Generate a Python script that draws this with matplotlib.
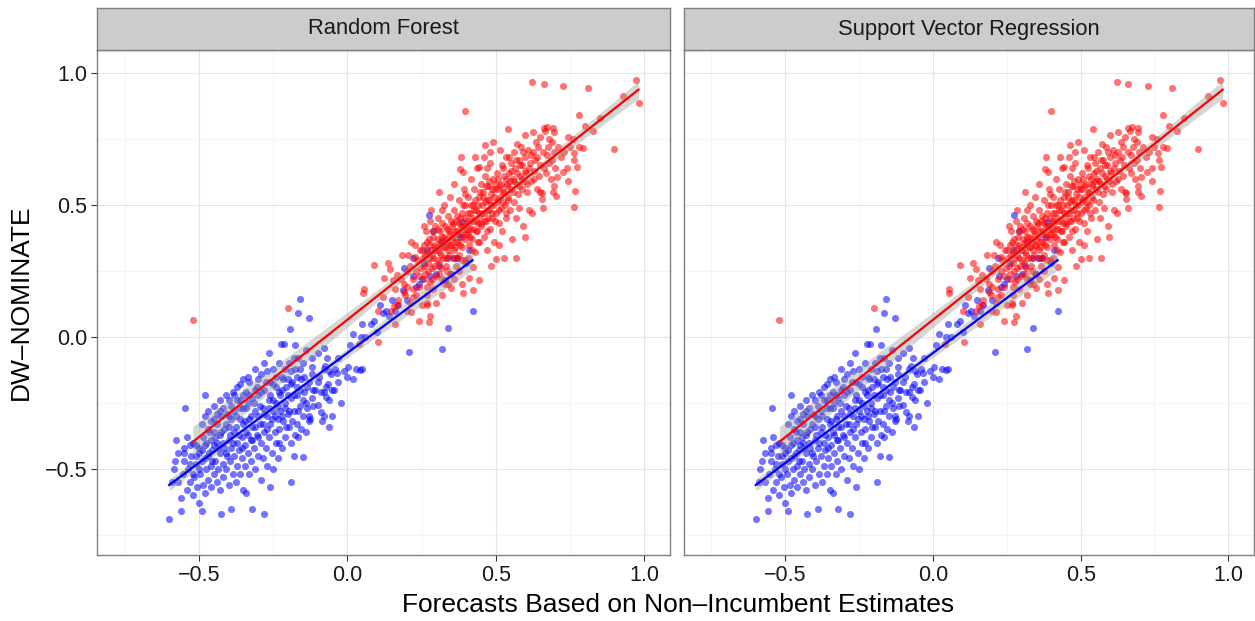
import numpy as np
import matplotlib.pyplot as plt

plt.rcParams['font.family'] = ['Liberation Sans', 'DejaVu Sans']

panels = ['Random Forest', 'Support Vector Regression']

# (forecast, DW-NOMINATE) for Democrats
dem_pts = [
    (-0.60, -0.69), (-0.59, -0.55), (-0.585, -0.50), (-0.576, -0.39), (-0.57, -0.55),
    (-0.56, -0.66), (-0.56, -0.61), (-0.555, -0.52), (-0.55, -0.47), (-0.545, -0.27),
    (-0.54, -0.58), (-0.535, -0.50), (-0.53, -0.55), (-0.525, -0.45), (-0.52, -0.60),
    (-0.515, -0.53), (-0.51, -0.48), (-0.505, -0.57), (-0.50, -0.44), (-0.50, -0.63),
    (-0.52, -0.40),
    (-0.58, -0.47), (-0.57, -0.44), (-0.55, -0.42), (-0.53, -0.48), (-0.51, -0.41),
    (-0.50, -0.50), (-0.52, -0.52), (-0.54, -0.38),
    (-0.55, -0.44), (-0.53, -0.41), (-0.51, -0.45), (-0.50, -0.42),
    (-0.495, -0.52), (-0.49, -0.66), (-0.49, -0.47), (-0.485, -0.56), (-0.48, -0.41),
    (-0.48, -0.59), (-0.475, -0.50), (-0.47, -0.45), (-0.47, -0.54), (-0.465, -0.36),
    (-0.46, -0.49), (-0.46, -0.57), (-0.455, -0.43), (-0.45, -0.52), (-0.45, -0.31),
    (-0.48, -0.22),
    (-0.49, -0.43), (-0.485, -0.38), (-0.48, -0.46), (-0.475, -0.40), (-0.47, -0.35),
    (-0.465, -0.44), (-0.46, -0.39), (-0.455, -0.47), (-0.45, -0.41), (-0.45, -0.36),
    (-0.49, -0.33), (-0.48, -0.30), (-0.47, -0.28), (-0.46, -0.32), (-0.45, -0.26),
    (-0.445, -0.47), (-0.44, -0.55), (-0.44, -0.40), (-0.435, -0.50), (-0.43, -0.44),
    (-0.43, -0.58), (-0.425, -0.67), (-0.425, -0.36), (-0.42, -0.48), (-0.42, -0.53),
    (-0.415, -0.42), (-0.41, -0.33), (-0.41, -0.50), (-0.405, -0.45), (-0.40, -0.56),
    (-0.40, -0.39), (-0.43, -0.28), (-0.40, -0.24),
    (-0.445, -0.38), (-0.44, -0.33), (-0.435, -0.42), (-0.43, -0.37), (-0.425, -0.30),
    (-0.42, -0.40), (-0.415, -0.35), (-0.41, -0.44), (-0.405, -0.29), (-0.40, -0.34),
    (-0.44, -0.29), (-0.43, -0.24), (-0.42, -0.27), (-0.41, -0.22), (-0.40, -0.30),
    (-0.395, -0.47), (-0.39, -0.65), (-0.39, -0.42), (-0.385, -0.52), (-0.38, -0.36),
    (-0.38, -0.45), (-0.375, -0.30), (-0.375, -0.55), (-0.37, -0.40), (-0.37, -0.49),
    (-0.365, -0.43), (-0.36, -0.27), (-0.36, -0.52), (-0.355, -0.38), (-0.355, -0.46),
    (-0.35, -0.33), (-0.35, -0.58), (-0.385, -0.21), (-0.36, -0.18),
    (-0.395, -0.37), (-0.39, -0.31), (-0.385, -0.40), (-0.38, -0.28), (-0.375, -0.34),
    (-0.37, -0.24), (-0.365, -0.37), (-0.36, -0.31), (-0.355, -0.42), (-0.35, -0.27),
    (-0.35, -0.22), (-0.39, -0.26), (-0.38, -0.22), (-0.37, -0.19), (-0.36, -0.24),
    (-0.35, -0.16),
    (-0.345, -0.41), (-0.345, -0.49), (-0.34, -0.59), (-0.34, -0.36), (-0.335, -0.44),
    (-0.335, -0.25), (-0.33, -0.31), (-0.33, -0.52), (-0.325, -0.39), (-0.325, -0.47),
    (-0.32, -0.65), (-0.32, -0.34), (-0.315, -0.42), (-0.31, -0.28), (-0.31, -0.50),
    (-0.305, -0.37), (-0.30, -0.45), (-0.30, -0.22), (-0.335, -0.15), (-0.31, -0.12),
    (-0.345, -0.32), (-0.34, -0.27), (-0.335, -0.37), (-0.33, -0.22), (-0.325, -0.30),
    (-0.32, -0.39), (-0.315, -0.25), (-0.31, -0.34), (-0.305, -0.19), (-0.30, -0.30),
    (-0.30, -0.38), (-0.34, -0.21), (-0.33, -0.17), (-0.32, -0.23), (-0.31, -0.20),
    (-0.30, -0.16),
    (-0.295, -0.33), (-0.29, -0.40), (-0.29, -0.54), (-0.285, -0.27), (-0.285, -0.46),
    (-0.28, -0.36), (-0.28, -0.67), (-0.275, -0.42), (-0.27, -0.30), (-0.27, -0.49),
    (-0.265, -0.24), (-0.265, -0.38), (-0.26, -0.33), (-0.26, -0.57), (-0.255, -0.44),
    (-0.25, -0.28), (-0.25, -0.18), (-0.25, -0.50), (-0.28, -0.10), (-0.265, -0.06),
    (-0.295, -0.26), (-0.29, -0.21), (-0.285, -0.33), (-0.28, -0.29), (-0.275, -0.17),
    (-0.27, -0.35), (-0.265, -0.27), (-0.26, -0.22), (-0.255, -0.31), (-0.25, -0.24),
    (-0.29, -0.14), (-0.28, -0.20), (-0.27, -0.13), (-0.26, -0.17), (-0.25, -0.12),
    (-0.245, -0.36), (-0.24, -0.40), (-0.24, -0.25), (-0.235, -0.31), (-0.235, -0.46),
    (-0.23, -0.21), (-0.23, -0.35), (-0.225, -0.28), (-0.22, -0.42), (-0.22, -0.15),
    (-0.215, -0.32), (-0.21, -0.25), (-0.21, -0.38), (-0.205, -0.19), (-0.20, -0.29),
    (-0.19, -0.55), (-0.223, -0.027), (-0.212, -0.027),
    (-0.245, -0.30), (-0.24, -0.19), (-0.235, -0.26), (-0.23, -0.40), (-0.225, -0.22),
    (-0.22, -0.30), (-0.215, -0.16), (-0.21, -0.27), (-0.205, -0.34), (-0.20, -0.22),
    (-0.24, -0.15), (-0.23, -0.10), (-0.22, -0.20), (-0.21, -0.12), (-0.20, -0.16),
    (-0.195, -0.34), (-0.19, -0.23), (-0.19, -0.40), (-0.185, -0.17), (-0.18, -0.28),
    (-0.18, -0.45), (-0.175, -0.12), (-0.17, -0.33), (-0.17, -0.22), (-0.165, -0.38),
    (-0.16, -0.26), (-0.155, -0.16), (-0.15, -0.30), (-0.193, 0.031), (-0.16, 0.145),
    (-0.166, 0.092), (-0.175, -0.03), (-0.148, -0.453),
    (-0.195, -0.28), (-0.19, -0.18), (-0.185, -0.32), (-0.18, -0.22), (-0.175, -0.37),
    (-0.17, -0.15), (-0.165, -0.28), (-0.16, -0.20), (-0.155, -0.35), (-0.15, -0.24),
    (-0.195, -0.10), (-0.165, -0.08), (-0.19, -0.13), (-0.18, -0.08), (-0.17, -0.19),
    (-0.16, -0.12), (-0.15, -0.10),
    (-0.145, -0.21), (-0.14, -0.36), (-0.135, -0.27), (-0.13, -0.17), (-0.128, 0.072),
    (-0.125, -0.31), (-0.12, -0.23), (-0.128, -0.30), (-0.119, -0.112), (-0.114, -0.20),
    (-0.10, -0.258), (-0.09, -0.283), (-0.08, -0.30), (-0.072, -0.226), (-0.063, -0.34),
    (-0.095, -0.15), (-0.085, -0.32), (-0.08, -0.21), (-0.075, -0.11), (-0.068, -0.08),
    (-0.065, -0.18), (-0.06, -0.24), (-0.055, -0.14), (-0.05, -0.30),
    (-0.145, -0.15), (-0.14, -0.25), (-0.135, -0.19), (-0.13, -0.32), (-0.12, -0.14),
    (-0.115, -0.26), (-0.11, -0.20), (-0.10, -0.17), (-0.09, -0.21), (-0.08, -0.12),
    (-0.07, -0.19), (-0.06, -0.13), (-0.05, -0.20), (-0.14, -0.05), (-0.12, -0.08),
    (-0.10, -0.06), (-0.08, -0.04),
    (-0.045, -0.20), (-0.04, -0.12), (-0.033, -0.137), (-0.03, -0.17), (-0.02, -0.25),
    (-0.01, -0.13), (0.002, -0.112), (0.01, -0.03), (0.02, -0.16), (0.03, -0.12),
    (0.044, -0.125), (0.045, 0.0), (-0.03, -0.08), (0.0, -0.15), (0.02, 0.01),
    (0.05, -0.12),
    (0.06, 0.0), (0.08, 0.05), (0.10, 0.02), (0.12, 0.09), (0.14, 0.08),
    (0.09, 0.06), (0.13, 0.10), (0.16, 0.10), (0.20, 0.14), (0.25, 0.22),
    (0.17, 0.12), (0.187, 0.178), (0.19, 0.26), (0.209, -0.056), (0.222, 0.23),
    (0.23, 0.19), (0.274, 0.462), (0.30, 0.24), (0.319, -0.045), (0.33, 0.216),
    (0.338, 0.035), (0.386, 0.436), (0.422, 0.10), (0.28, 0.23), (0.35, 0.24),
    (0.40, 0.28), (0.37, 0.30), (0.15, 0.14), (0.24, 0.20), (0.31, 0.27),
    (0.36, 0.30), (0.41, 0.33), (0.26, 0.28), (0.22, 0.30), (0.27, 0.33),
    (0.32, 0.36), (0.34, 0.30), (0.38, 0.38), (0.29, 0.40), (0.05, 0.05),
    (0.11, 0.12),
]

# (forecast, DW-NOMINATE) for Republicans
rep_pts = [
    (-0.52, 0.063), (-0.20, 0.111),
    (0.04, -0.028), (0.053, 0.165), (0.055, 0.18), (0.091, 0.274), (0.103, 0.10),
    (0.104, -0.018), (0.125, 0.225), (0.136, 0.279), (0.145, 0.256), (0.147, 0.10),
    (0.154, 0.216), (0.156, 0.119), (0.167, 0.235), (0.167, 0.12), (0.184, 0.31),
    (0.19, 0.20), (0.20, 0.25), (0.17, 0.14), (0.195, 0.16),
    (0.12, 0.15), (0.16, 0.18), (0.18, 0.22), (0.20, 0.19), (0.22, 0.18),
    (0.23, 0.16), (0.24, 0.23), (0.19, 0.17),
    (0.16, 0.05), (0.20, 0.10), (0.22, 0.15), (0.25, 0.12), (0.27, 0.16),
    (0.29, 0.18), (0.30, 0.13), (0.32, 0.22), (0.34, 0.20), (0.36, 0.22),
    (0.28, 0.08), (0.24, 0.06),
    (0.212, 0.127), (0.214, 0.096), (0.227, 0.347), (0.229, 0.304), (0.21, 0.27),
    (0.22, 0.22), (0.235, 0.29), (0.24, 0.19), (0.245, 0.33), (0.215, 0.36),
    (0.23, 0.25), (0.205, 0.31), (0.248, 0.26),
    (0.268, 0.127), (0.274, 0.058), (0.268, 0.12), (0.255, 0.30), (0.26, 0.35),
    (0.262, 0.24), (0.265, 0.40), (0.27, 0.32), (0.272, 0.28), (0.275, 0.37),
    (0.278, 0.21), (0.28, 0.44), (0.282, 0.33), (0.285, 0.26), (0.288, 0.38),
    (0.29, 0.30), (0.292, 0.35), (0.295, 0.42), (0.298, 0.23), (0.30, 0.34),
    (0.258, 0.42), (0.283, 0.48), (0.27, 0.19),
    (0.252, 0.33), (0.257, 0.27), (0.263, 0.31), (0.267, 0.36), (0.273, 0.25),
    (0.277, 0.30), (0.28, 0.35), (0.285, 0.31), (0.29, 0.40), (0.293, 0.27),
    (0.297, 0.33), (0.26, 0.22), (0.286, 0.22),
    (0.302, 0.29), (0.305, 0.37), (0.307, 0.45), (0.31, 0.32), (0.312, 0.40),
    (0.315, 0.26), (0.317, 0.35), (0.32, 0.43), (0.322, 0.30), (0.325, 0.38),
    (0.327, 0.50), (0.33, 0.34), (0.332, 0.27), (0.335, 0.41), (0.337, 0.36),
    (0.34, 0.46), (0.342, 0.31), (0.345, 0.39), (0.347, 0.24), (0.35, 0.35),
    (0.35, 0.184), (0.31, 0.55), (0.33, 0.20), (0.345, 0.53), (0.318, 0.16),
    (0.303, 0.33), (0.306, 0.41), (0.309, 0.28), (0.313, 0.36), (0.316, 0.31),
    (0.32, 0.38), (0.324, 0.34), (0.328, 0.42), (0.331, 0.30), (0.334, 0.37),
    (0.338, 0.33), (0.341, 0.40), (0.344, 0.35), (0.348, 0.44), (0.31, 0.24),
    (0.335, 0.25), (0.32, 0.48),
    (0.352, 0.42), (0.355, 0.30), (0.357, 0.38), (0.36, 0.48), (0.362, 0.34),
    (0.365, 0.44), (0.367, 0.27), (0.37, 0.40), (0.372, 0.36), (0.375, 0.52),
    (0.377, 0.31), (0.38, 0.45), (0.38, 0.635), (0.383, 0.683), (0.382, 0.39),
    (0.385, 0.34), (0.386, 0.20), (0.387, 0.47), (0.39, 0.168), (0.39, 0.625),
    (0.39, 0.42), (0.392, 0.56), (0.395, 0.37), (0.397, 0.29), (0.398, 0.857),
    (0.398, 0.50), (0.36, 0.58), (0.375, 0.25),
    (0.353, 0.37), (0.356, 0.43), (0.359, 0.33), (0.363, 0.40), (0.366, 0.36),
    (0.369, 0.46), (0.373, 0.39), (0.376, 0.43), (0.379, 0.35), (0.383, 0.42),
    (0.386, 0.38), (0.389, 0.50), (0.393, 0.41), (0.396, 0.45), (0.399, 0.39),
    (0.37, 0.30), (0.385, 0.29), (0.395, 0.54),
    (0.402, 0.44), (0.405, 0.39), (0.407, 0.53), (0.41, 0.222), (0.41, 0.35),
    (0.412, 0.47), (0.415, 0.41), (0.417, 0.60), (0.42, 0.37), (0.422, 0.178),
    (0.422, 0.50), (0.425, 0.266), (0.425, 0.44), (0.428, 0.56), (0.43, 0.32),
    (0.432, 0.40), (0.435, 0.48), (0.437, 0.64), (0.44, 0.43), (0.442, 0.216),
    (0.442, 0.53), (0.444, 0.642), (0.445, 0.36), (0.447, 0.46), (0.45, 0.58),
    (0.408, 0.30), (0.43, 0.68),
    (0.403, 0.41), (0.406, 0.47), (0.409, 0.43), (0.413, 0.38), (0.416, 0.50),
    (0.419, 0.45), (0.423, 0.41), (0.426, 0.48), (0.429, 0.52), (0.433, 0.44),
    (0.436, 0.40), (0.439, 0.50), (0.443, 0.47), (0.446, 0.55), (0.449, 0.43),
    (0.42, 0.33), (0.44, 0.36),
    (0.452, 0.42), (0.455, 0.50), (0.457, 0.55), (0.46, 0.38), (0.462, 0.47),
    (0.465, 0.727), (0.465, 0.61), (0.467, 0.44), (0.47, 0.52), (0.472, 0.639),
    (0.472, 0.33), (0.475, 0.57), (0.478, 0.48), (0.48, 0.41), (0.482, 0.66),
    (0.485, 0.269), (0.485, 0.54), (0.487, 0.45), (0.49, 0.74), (0.49, 0.60),
    (0.492, 0.50), (0.495, 0.36), (0.497, 0.56), (0.50, 0.47), (0.502, 0.294),
    (0.46, 0.68), (0.48, 0.70),
    (0.453, 0.47), (0.456, 0.53), (0.459, 0.44), (0.463, 0.51), (0.466, 0.57),
    (0.469, 0.48), (0.473, 0.45), (0.476, 0.52), (0.479, 0.59), (0.483, 0.50),
    (0.486, 0.56), (0.489, 0.47), (0.493, 0.53), (0.496, 0.44), (0.499, 0.58),
    (0.47, 0.40),
    (0.505, 0.62), (0.507, 0.52), (0.51, 0.43), (0.513, 0.708), (0.515, 0.57),
    (0.517, 0.49), (0.52, 0.65), (0.522, 0.40), (0.525, 0.55), (0.527, 0.61),
    (0.529, 0.298), (0.53, 0.50), (0.533, 0.68), (0.535, 0.45), (0.537, 0.58),
    (0.54, 0.53), (0.543, 0.788), (0.545, 0.62), (0.547, 0.48), (0.55, 0.66),
    (0.555, 0.37), (0.552, 0.56), (0.51, 0.35),
    (0.503, 0.51), (0.506, 0.56), (0.509, 0.60), (0.512, 0.48), (0.516, 0.53),
    (0.519, 0.58), (0.523, 0.51), (0.526, 0.64), (0.529, 0.55), (0.533, 0.47),
    (0.536, 0.60), (0.539, 0.57), (0.543, 0.52), (0.546, 0.68), (0.549, 0.59),
    (0.557, 0.60), (0.56, 0.70), (0.562, 0.51), (0.565, 0.64), (0.567, 0.45),
    (0.569, 0.298), (0.57, 0.58), (0.572, 0.73), (0.575, 0.54), (0.577, 0.67),
    (0.58, 0.49), (0.582, 0.61), (0.585, 0.72), (0.587, 0.56), (0.59, 0.65),
    (0.592, 0.42), (0.595, 0.59), (0.597, 0.38), (0.60, 0.765), (0.60, 0.68),
    (0.553, 0.63), (0.558, 0.55), (0.563, 0.59), (0.568, 0.67), (0.573, 0.62),
    (0.578, 0.57), (0.583, 0.65), (0.588, 0.60), (0.593, 0.70), (0.598, 0.63),
    (0.603, 0.62), (0.607, 0.55), (0.61, 0.71), (0.612, 0.48), (0.615, 0.66),
    (0.62, 0.59), (0.622, 0.468), (0.623, 0.967), (0.625, 0.775), (0.627, 0.70),
    (0.63, 0.63), (0.635, 0.74), (0.638, 0.56), (0.64, 0.68), (0.645, 0.61),
    (0.65, 0.757), (0.65, 0.55),
    (0.605, 0.58), (0.613, 0.64), (0.618, 0.69), (0.628, 0.60), (0.633, 0.67),
    (0.643, 0.72), (0.648, 0.65),
    (0.655, 0.523), (0.655, 0.544), (0.659, 0.49), (0.661, 0.957), (0.661, 0.793),
    (0.663, 0.639), (0.667, 0.782), (0.672, 0.689), (0.674, 0.797), (0.677, 0.72),
    (0.68, 0.66), (0.685, 0.60), (0.69, 0.74), (0.693, 0.548), (0.693, 0.79),
    (0.695, 0.572), (0.695, 0.778), (0.697, 0.70), (0.70, 0.64),
    (0.66, 0.70), (0.67, 0.62), (0.68, 0.75), (0.69, 0.67), (0.71, 0.72),
    (0.73, 0.70), (0.74, 0.64), (0.76, 0.75), (0.78, 0.72),
    (0.703, 0.534), (0.706, 0.607), (0.726, 0.623), (0.728, 0.952), (0.742, 0.757),
    (0.743, 0.59), (0.762, 0.695), (0.764, 0.67), (0.764, 0.494), (0.768, 0.553),
    (0.773, 0.645), (0.793, 0.714), (0.81, 0.943), (0.827, 0.78), (0.899, 0.711),
    (0.93, 0.914), (0.973, 0.973), (0.981, 0.885), (0.72, 0.68), (0.75, 0.72),
    (0.80, 0.80), (0.85, 0.83), (0.78, 0.84),
]

x_ticks = [-0.5, 0.0, 0.5, 1.0]
y_ticks = [-0.5, 0.0, 0.5, 1.0]
tick_labels = ['\u22120.5', '0.0', '0.5', '1.0']


def smooth(ax, x, y, color):
    # lm fit with 95% band, like geom_smooth(method='lm')
    x = np.asarray(x)
    y = np.asarray(y)
    b, a = np.polyfit(x, y, 1)
    xs = np.linspace(x.min(), x.max(), 80)
    fit = a + b * xs
    n = len(x)
    s = np.sqrt(np.sum((y - (a + b * x)) ** 2) / (n - 2))
    se = s * np.sqrt(1 / n + (xs - x.mean()) ** 2 / np.sum((x - x.mean()) ** 2))
    ax.fill_between(xs, fit - 1.96 * se, fit + 1.96 * se, color='#999999', alpha=0.4, lw=0, zorder=3)
    ax.plot(xs, fit, color=color, lw=1.6, zorder=4)


fig = plt.figure(figsize=(12.55, 6.21), dpi=100)

W, H = 1255, 621
boxes = [(97, 670), (684, 1254)]
top, bottom, strip_top = 50, 555, 8

dx, dy = zip(*dem_pts)
rx, ry = zip(*rep_pts)

for i, (name, (l, r)) in enumerate(zip(panels, boxes)):
    ax = fig.add_axes([l / W, (H - bottom) / H, (r - l) / W, (bottom - top) / H])
    ax.scatter(dx, dy, s=26, color='#0000ff', alpha=0.55, lw=0, zorder=2)
    ax.scatter(rx, ry, s=26, color='#ff0000', alpha=0.55, lw=0, zorder=2)
    smooth(ax, dx, dy, '#0000ff')
    smooth(ax, rx, ry, '#ff0000')

    ax.set_xlim(-0.843, 1.087)
    ax.set_ylim(-0.826, 1.087)
    ax.set_xticks(x_ticks)
    ax.set_yticks(y_ticks)
    ax.set_xticks([-0.75, -0.25, 0.25, 0.75], minor=True)
    ax.set_yticks([-0.75, -0.25, 0.25, 0.75], minor=True)
    ax.set_xticklabels(tick_labels)
    ax.grid(True, which='major', color='#e5e5e5', lw=0.8, zorder=0)
    ax.grid(True, which='minor', color='#f2f2f2', lw=0.6, zorder=0)
    ax.set_axisbelow(True)
    ax.tick_params(which='minor', length=0)
    ax.tick_params(which='major', length=4, color='#333333', labelsize=15.5,
                   labelcolor='#1a1a1a', pad=3)
    if i == 0:
        ax.set_yticklabels(tick_labels)
    else:
        ax.tick_params(axis='y', left=False, labelleft=False)
    for sp in ax.spines.values():
        sp.set_color('#7f7f7f')
        sp.set_linewidth(1.0)

    sax = fig.add_axes([l / W, (H - top) / H, (r - l) / W, (top - strip_top) / H])
    sax.set_facecolor('#cccccc')
    sax.set_xticks([])
    sax.set_yticks([])
    for sp in sax.spines.values():
        sp.set_color('#7f7f7f')
        sp.set_linewidth(1.0)
    sax.text(0.5, 0.5, name, ha='center', va='center', fontsize=15.8, color='#1a1a1a',
             transform=sax.transAxes)

fig.text(0.54, 0.026, 'Forecasts Based on Non\u2013Incumbent Estimates', ha='center',
         va='center', fontsize=19)
fig.text(0.017, 0.514, 'DW\u2013NOMINATE', ha='center', va='center', rotation=90, fontsize=19)

fig.savefig('out.png', dpi=100)
